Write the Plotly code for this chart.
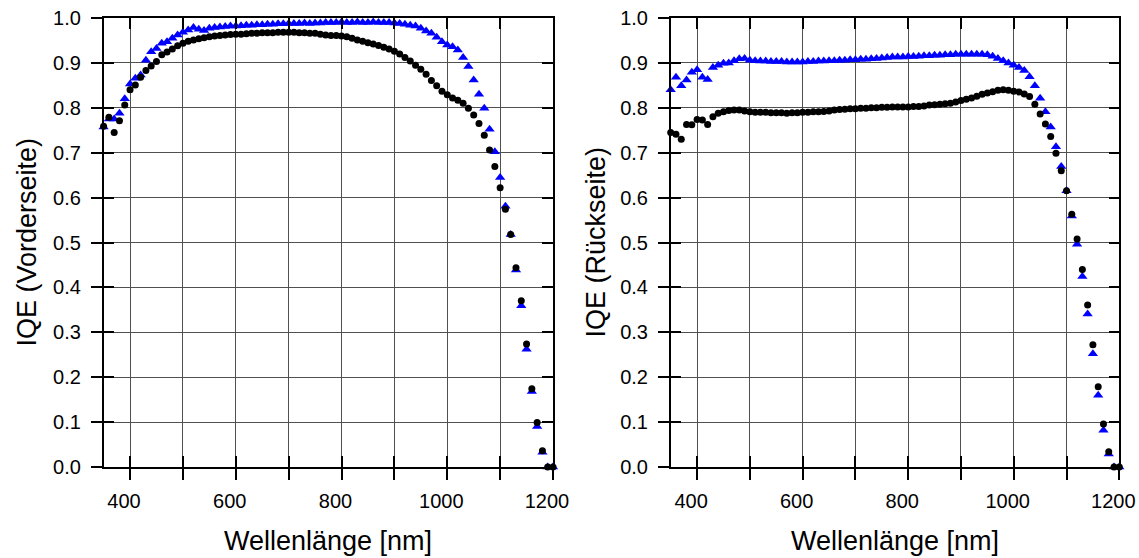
import plotly.graph_objects as go

# Wellenlängen (nm), Schrittweite 10 nm
wavelength = list(range(350, 1201, 10))

# Vorderseite
front_circles = [
    0.759, 0.779, 0.745, 0.771, 0.806, 0.840, 0.851, 0.868, 0.883, 0.893,
    0.903, 0.918, 0.924, 0.931, 0.938, 0.944, 0.948, 0.951, 0.954, 0.956,
    0.958, 0.960, 0.961, 0.962, 0.963, 0.964, 0.964, 0.965, 0.966, 0.966,
    0.967, 0.967, 0.967, 0.968, 0.968, 0.968, 0.968, 0.967, 0.967, 0.966,
    0.966, 0.964, 0.962, 0.961, 0.961, 0.960, 0.958, 0.955, 0.951, 0.948,
    0.945, 0.942, 0.939, 0.935, 0.931, 0.926, 0.920, 0.912, 0.904, 0.895,
    0.886, 0.875, 0.861, 0.849, 0.837, 0.829, 0.822, 0.817, 0.810, 0.799,
    0.784, 0.765, 0.739, 0.706, 0.669, 0.622, 0.574, 0.518, 0.444, 0.370,
    0.274, 0.174, 0.099, 0.036, 0.0, 0.0,
]
front_triangles = [
    0.757, 0.775, 0.775, 0.788, 0.820, 0.853, 0.866, 0.873, 0.906, 0.925,
    0.932, 0.944, 0.947, 0.955, 0.962, 0.968, 0.973, 0.979, 0.975, 0.972,
    0.977, 0.979, 0.980, 0.981, 0.982, 0.982, 0.983, 0.984, 0.984, 0.985,
    0.985, 0.986, 0.986, 0.987, 0.987, 0.988, 0.988, 0.988, 0.989, 0.988,
    0.989, 0.989, 0.990, 0.990, 0.990, 0.991, 0.990, 0.990, 0.991, 0.990,
    0.990, 0.991, 0.990, 0.990, 0.990, 0.989, 0.988, 0.986, 0.984, 0.982,
    0.977, 0.971, 0.966, 0.957, 0.947, 0.940, 0.936, 0.929, 0.912, 0.892,
    0.862, 0.830, 0.799, 0.752, 0.702, 0.645, 0.581, 0.518, 0.439, 0.359,
    0.262, 0.168, 0.090, 0.033, 0.0, 0.0,
]

# Rückseite
rear_circles = [
    0.745, 0.741, 0.730, 0.763, 0.762, 0.774, 0.773, 0.763, 0.780, 0.788,
    0.791, 0.794, 0.795, 0.795, 0.793, 0.791, 0.790, 0.790, 0.790, 0.789,
    0.789, 0.789, 0.788, 0.789, 0.789, 0.790, 0.790, 0.791, 0.791, 0.792,
    0.793, 0.795, 0.796, 0.797, 0.798, 0.798, 0.799, 0.799, 0.800, 0.800,
    0.801, 0.801, 0.802, 0.802, 0.802, 0.802, 0.803, 0.803, 0.804, 0.806,
    0.807, 0.808, 0.809, 0.810, 0.813, 0.816, 0.819, 0.822, 0.826, 0.830,
    0.833, 0.836, 0.839, 0.840, 0.839, 0.837, 0.835, 0.831, 0.825, 0.808,
    0.786, 0.764, 0.736, 0.699, 0.660, 0.615, 0.563, 0.508, 0.440, 0.361,
    0.272, 0.179, 0.096, 0.034, 0.0, 0.0,
]
rear_triangles = [
    0.840, 0.868, 0.849, 0.862, 0.879, 0.885, 0.868, 0.863, 0.890, 0.895,
    0.899, 0.900, 0.905, 0.909, 0.910, 0.906, 0.905, 0.904, 0.904, 0.903,
    0.903, 0.903, 0.902, 0.902, 0.902, 0.902, 0.903, 0.903, 0.904, 0.904,
    0.905, 0.905, 0.906, 0.906, 0.907, 0.907, 0.908, 0.908, 0.909, 0.910,
    0.911, 0.912, 0.913, 0.913, 0.913, 0.914, 0.914, 0.915, 0.916, 0.916,
    0.917, 0.917, 0.918, 0.918, 0.919, 0.919, 0.919, 0.919, 0.919, 0.919,
    0.918, 0.915, 0.910, 0.905, 0.900, 0.895, 0.890, 0.883, 0.869, 0.849,
    0.821, 0.791, 0.757, 0.713, 0.669, 0.615, 0.559, 0.496, 0.424, 0.341,
    0.252, 0.160, 0.082, 0.029, 0.0, 0.0,
]

x_ticks = list(range(400, 1201, 100))
x_ticktext = ["400", "", "600", "", "800", "", "1000", "", "1200"]
y_ticks = [i / 10 for i in range(11)]

W, H = 1139, 558
FONT = "Liberation Sans, Arial, sans-serif"

fig = go.Figure()

panels = [
    ("x", "y", "x3", "y3", front_circles, front_triangles),
    ("x2", "y2", "x4", "y4", rear_circles, rear_triangles),
]
for xa, ya, xo, yo, circ, tri in panels:
    fig.add_trace(go.Scatter(
        x=wavelength, y=tri, mode="markers", xaxis=xa, yaxis=ya,
        marker=dict(symbol="triangle-up", size=9, color="#0000ff"),
        cliponaxis=False, showlegend=False,
    ))
    fig.add_trace(go.Scatter(
        x=wavelength, y=circ, mode="markers", xaxis=xa, yaxis=ya,
        marker=dict(symbol="circle", size=7, color="black"),
        cliponaxis=False, showlegend=False,
    ))
    # leere Spur, damit die Hilfsachsen (innere Ticks) gezeichnet werden
    fig.add_trace(go.Scatter(x=[], y=[], xaxis=xo, yaxis=yo, showlegend=False))

x_main = dict(
    range=[350, 1200], tickvals=x_ticks, ticktext=x_ticktext,
    ticks="outside", ticklen=11, tickwidth=1.5, tickcolor="black",
    showline=True, linecolor="black", linewidth=1.5, mirror=True,
    showgrid=True, gridcolor="#505050", gridwidth=1, zeroline=False,
    tickfont=dict(family=FONT, size=20, color="black"),
    ticklabelstandoff=4, ticklabelshift=-6, ticklabeloverflow="allow",
    automargin=False,
)
y_main = dict(
    range=[0, 1.0], tickvals=y_ticks, tickformat=".1f",
    ticks="outside", ticklen=11, tickwidth=1.5, tickcolor="black",
    showline=True, linecolor="black", linewidth=1.5, mirror=True,
    showgrid=True, gridcolor="#505050", gridwidth=1, zeroline=False,
    tickfont=dict(family=FONT, size=20, color="black"),
    ticklabelstandoff=6, ticklabeloverflow="allow", automargin=False,
)
x_inner = dict(
    range=[350, 1200], tickvals=x_ticks, ticks="inside", ticklen=11,
    tickwidth=1.5, tickcolor="black", mirror="allticks", showline=True,
    linecolor="black", linewidth=1.5, showticklabels=False,
    showgrid=False, zeroline=False, automargin=False,
)
y_inner = dict(
    range=[0, 1.0], tickvals=y_ticks, ticks="inside", ticklen=11,
    tickwidth=1.5, tickcolor="black", mirror="allticks", showline=True,
    linecolor="black", linewidth=1.5, showticklabels=False,
    showgrid=False, zeroline=False, automargin=False,
)

left_dom = [103.6 / W, 553.0 / W]
right_dom = [670.7 / W, 1119.3 / W]
y_dom = [1 - 467.0 / H, 1 - 18.0 / H]

fig.update_layout(
    width=W, height=H,
    margin=dict(l=0, r=0, t=0, b=0, autoexpand=False),
    paper_bgcolor="white", plot_bgcolor="white",
    font=dict(family=FONT, color="black"),
    xaxis=dict(x_main, domain=left_dom, anchor="y"),
    yaxis=dict(y_main, domain=y_dom, anchor="x"),
    xaxis2=dict(x_main, domain=right_dom, anchor="y2"),
    yaxis2=dict(y_main, domain=y_dom, anchor="x2"),
    xaxis3=dict(x_inner, overlaying="x", anchor="y3"),
    yaxis3=dict(y_inner, overlaying="y", anchor="x3"),
    xaxis4=dict(x_inner, overlaying="x2", anchor="y4"),
    yaxis4=dict(y_inner, overlaying="y2", anchor="x4"),
)

title_font = dict(family=FONT, size=27, color="black")
annots = [
    dict(text="Wellenlänge [nm]", x=sum(left_dom) / 2, y=1 - 541 / H),
    dict(text="Wellenlänge [nm]", x=sum(right_dom) / 2, y=1 - 541 / H),
    dict(text="IQE (Vorderseite)", x=27 / W, y=sum(y_dom) / 2, textangle=-90),
    dict(text="IQE (Rückseite)", x=596 / W, y=sum(y_dom) / 2, textangle=-90),
]
for a in annots:
    fig.add_annotation(
        xref="paper", yref="paper", showarrow=False,
        xanchor="center", yanchor="middle", font=title_font, **a
    )

# Standard-Seitenrand des Browsers entfernen, Modebar ausblenden
fig.write_html(
    "out.html",
    config={"displayModeBar": False},
    post_script="document.body.style.margin='0';",
)
